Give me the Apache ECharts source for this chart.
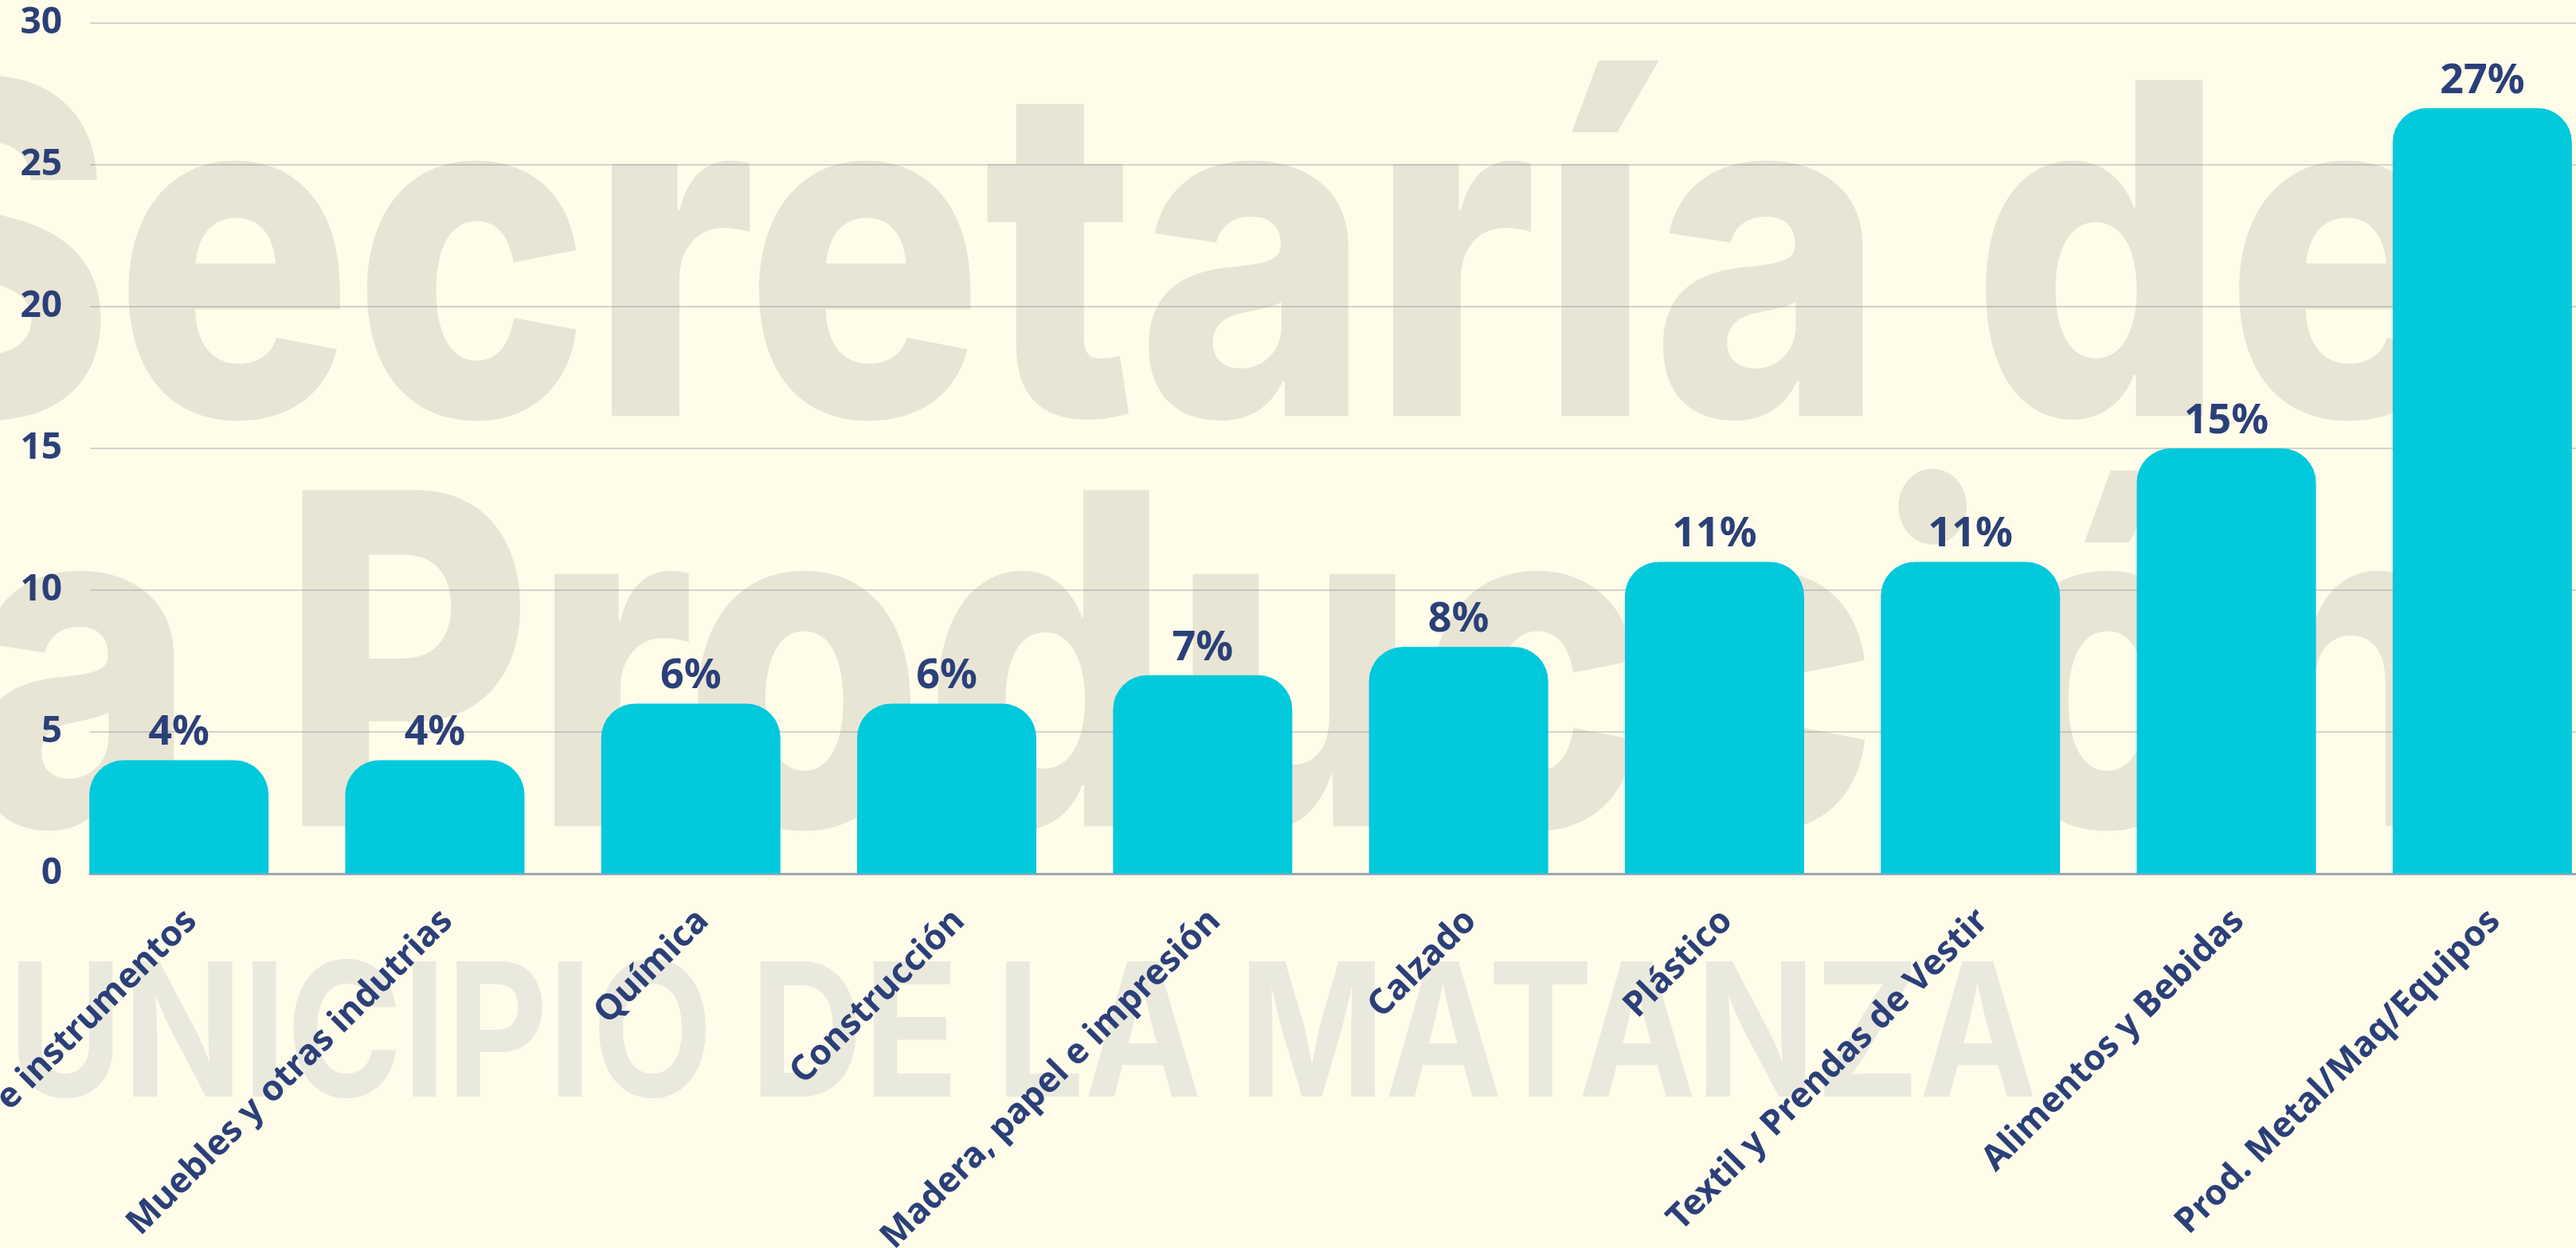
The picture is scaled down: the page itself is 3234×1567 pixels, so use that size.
<!DOCTYPE html>
<html><head><meta charset="utf-8">
<script src="https://cdn.jsdelivr.net/npm/echarts/dist/echarts.min.js"></script>
<style>html,body{margin:0;padding:0;background:#fffcea;overflow:hidden}#c{width:3234px;height:1567px}</style>
</head><body><div id="c"></div>
<script>
// ---- data ----
const categories = ['Aparatos e instrumentos', 'Muebles y otras indutrias', 'Química', 'Construcción',
  'Madera, papel e impresión', 'Calzado', 'Plástico', 'Textil y Prendas de Vestir',
  'Alimentos y Bebidas', 'Prod. Metal/Maq/Equipos'];
const values = [4, 4, 6, 6, 7, 8, 11, 11, 15, 27];
const yMin = 0, yMax = 30, yStep = 5;
const watermarkTop = 'Secretaría de';
const watermarkMid = 'la Producción';
const watermarkBottom = 'MUNICIPIO DE LA MATANZA';

// ---- styling ----
const NAVY = '#2b4078';
const FONT = '"Noto Sans", "Open Sans", sans-serif';
const mctx = document.createElement('canvas').getContext('2d');
function tw(text, weight, size, fam) { mctx.font = weight + ' ' + size + 'px ' + fam; return mctx.measureText(text).width; }

const wmFam = 'Inter, "Noto Sans", sans-serif';
const wmSize = 580, wmWeight = 800;
const sx1 = 2949 / tw('ecretaría de', wmWeight, wmSize, wmFam);
const x1 = 144 - tw('S', wmWeight, wmSize, wmFam) * sx1;
const sx2 = sx1 * 0.975;
const x2 = 352 - tw('la ', wmWeight, wmSize, wmFam) * sx2;
const wm3Size = 234, wm3Weight = 700;
const sx3 = 2547 / tw('UNICIPIO DE LA MATANZA', wm3Weight, wm3Size, wmFam);
const x3 = 10 - tw('M', wm3Weight, wm3Size, wmFam) * sx3;

const chart = echarts.init(document.getElementById('c'), null, { renderer: 'canvas' });
const G = { top: 29, bottom: 470 };
chart.setOption({
  backgroundColor: '#fffcea',
  animation: false,
  graphic: {
    z: -10,
    elements: [
      { type: 'text', z: -10, silent: true, x: x1, y: 348, scaleX: sx1,
        style: { text: watermarkTop, fontSize: wmSize, fontWeight: wmWeight, fontFamily: wmFam, fill: '#e8e5d5', align: 'left', verticalAlign: 'middle' } },
      { type: 'text', z: -10, silent: true, x: x2, y: 863, scaleX: sx2,
        style: { text: watermarkMid, fontSize: wmSize, fontWeight: wmWeight, fontFamily: wmFam, fill: '#e8e5d5', align: 'left', verticalAlign: 'middle' } },
      { type: 'text', z: -10, silent: true, x: x3, y: 1307, scaleX: sx3,
        style: { text: watermarkBottom, fontSize: wm3Size, fontWeight: wm3Weight, fontFamily: wmFam, fill: '#eae9de', align: 'left', verticalAlign: 'middle' } }
    ]
  },
  grid: [
    { left: 113, width: 3121, top: G.top, bottom: G.bottom, outerBoundsMode: 'none', containLabel: false },
    { left: 64, width: 3213, top: G.top, bottom: G.bottom, outerBoundsMode: 'none', containLabel: false },
    { left: 64, width: 3213, top: G.top, bottom: G.bottom, outerBoundsMode: 'none', containLabel: false }
  ],
  xAxis: [
    { gridIndex: 0, type: 'value', min: 0, max: 1, axisLine: { show: true, lineStyle: { color: '#9ea5b5', width: 3 } },
      axisTick: { show: false }, axisLabel: { show: false }, splitLine: { show: false } },
    { gridIndex: 1, type: 'category', data: categories, axisLine: { show: false }, axisTick: { show: false },
      axisLabel: { show: false } },
    { gridIndex: 2, type: 'category', data: categories, axisLine: { show: false }, axisTick: { show: false },
      axisLabel: { interval: 0, rotate: 45, margin: 37, verticalAlign: 'top', hideOverlap: false, fontSize: 44, fontWeight: 'bold', fontFamily: FONT, color: NAVY } }
  ],
  yAxis: [
    { gridIndex: 0, type: 'value', min: yMin, max: yMax, interval: yStep,
      axisLine: { show: false }, axisTick: { show: false },
      axisLabel: { margin: 35, fontSize: 46, fontWeight: 'bold', fontFamily: FONT, color: NAVY },
      splitLine: { lineStyle: { color: 'rgba(120,130,150,0.33)', width: 2 } } },
    { gridIndex: 1, type: 'value', min: yMin, max: yMax, interval: yStep, show: false, splitLine: { show: false } },
    { gridIndex: 2, type: 'value', min: yMin, max: yMax, interval: yStep, show: false, splitLine: { show: false } }
  ],
  series: [{
    type: 'bar', xAxisIndex: 1, yAxisIndex: 1, data: values, barWidth: 225,
    itemStyle: { color: '#02c9db', borderRadius: [43, 43, 0, 0] },
    label: { show: true, position: 'top', distance: 8, formatter: '{c}%', fontSize: 52, fontWeight: 'bold', fontFamily: FONT, color: NAVY }
  }]
});
</script>
</body></html>
